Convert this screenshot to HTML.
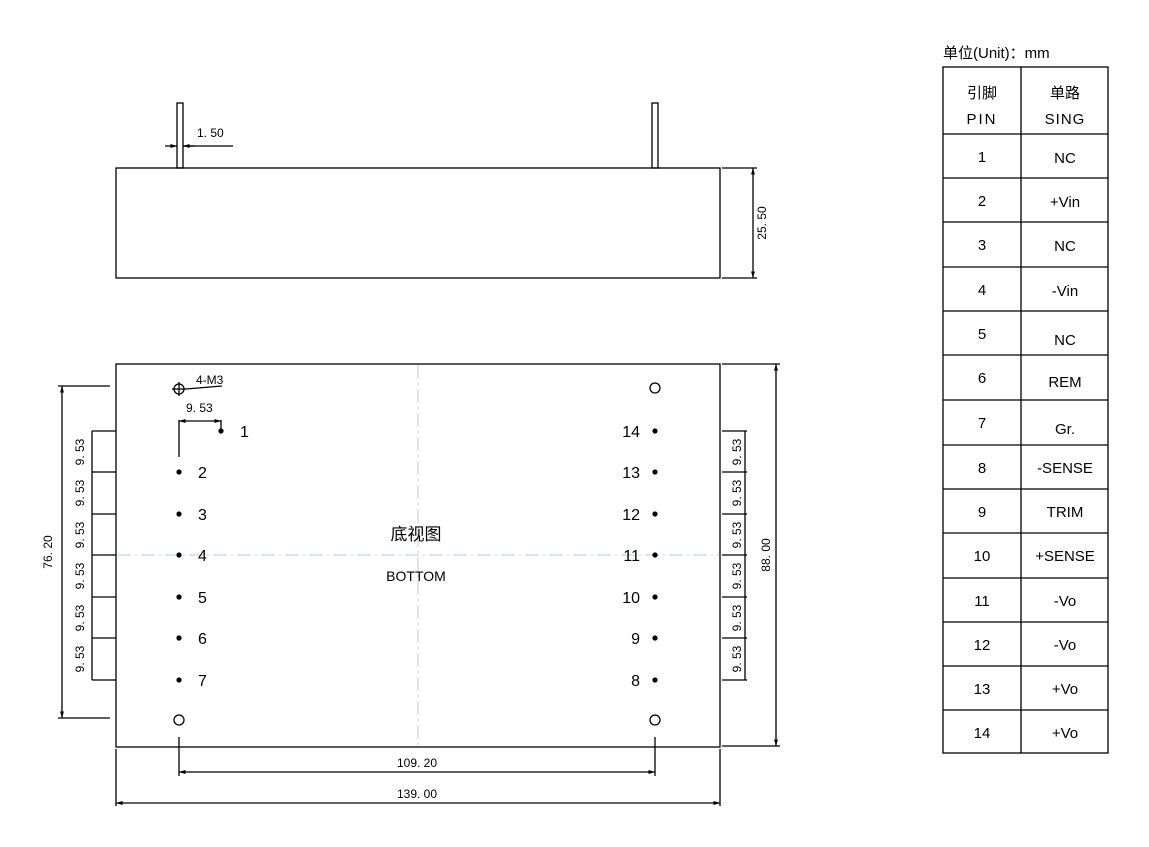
<!DOCTYPE html>
<html><head><meta charset="utf-8"><style>
html,body{margin:0;padding:0;background:#fff;}
svg{display:block;font-family:"Liberation Sans","Noto Sans CJK SC",sans-serif;}
.d{font-size:12px;fill:#000;}
.p{font-size:16px;fill:#000;}
.t{font-size:15px;fill:#000;text-anchor:middle;}
</style></head><body>
<svg width="1149" height="847" viewBox="0 0 1149 847" xmlns="http://www.w3.org/2000/svg">
<defs>
<marker id="a" viewBox="0 0 10 10" refX="10" refY="5" markerWidth="7" markerHeight="5" orient="auto-start-reverse"><path d="M0,2 L10,5 L0,8z" fill="#000"/></marker>
</defs>
<g stroke="#000" fill="none" stroke-width="1.3">
<rect x="177" y="103" width="6" height="65"/>
<rect x="652" y="103" width="6" height="65"/>
<rect x="116" y="168" width="604" height="110"/>
<line x1="165" y1="146" x2="177" y2="146" marker-end="url(#a)"/>
<line x1="195" y1="146" x2="183" y2="146" marker-end="url(#a)"/>
<line x1="183" y1="146" x2="233" y2="146"/>
<line x1="722" y1="168" x2="757" y2="168"/>
<line x1="722" y1="278" x2="757" y2="278"/>
<line x1="753" y1="168" x2="753" y2="278" marker-start="url(#a)" marker-end="url(#a)"/>
<rect x="116" y="364" width="604" height="383"/>
<line x1="58" y1="386" x2="110" y2="386"/>
<line x1="58" y1="718" x2="110" y2="718"/>
<line x1="62" y1="386" x2="62" y2="718" marker-start="url(#a)" marker-end="url(#a)"/>
<line x1="92" y1="431" x2="92" y2="680"/>
<line x1="92" y1="431" x2="116" y2="431"/><line x1="92" y1="472" x2="116" y2="472"/>
<line x1="92" y1="514" x2="116" y2="514"/><line x1="92" y1="555" x2="116" y2="555"/>
<line x1="92" y1="597" x2="116" y2="597"/><line x1="92" y1="638" x2="116" y2="638"/>
<line x1="92" y1="680" x2="116" y2="680"/>
<line x1="745" y1="431" x2="745" y2="680"/>
<line x1="722" y1="431" x2="747" y2="431"/><line x1="722" y1="472" x2="747" y2="472"/>
<line x1="722" y1="514" x2="747" y2="514"/><line x1="722" y1="555" x2="747" y2="555"/>
<line x1="722" y1="597" x2="747" y2="597"/><line x1="722" y1="638" x2="747" y2="638"/>
<line x1="722" y1="680" x2="747" y2="680"/>
<line x1="722" y1="364" x2="780" y2="364"/>
<line x1="722" y1="746" x2="780" y2="746"/>
<line x1="776" y1="364" x2="776" y2="746" marker-start="url(#a)" marker-end="url(#a)"/>
<line x1="179" y1="737" x2="179" y2="776"/>
<line x1="655" y1="737" x2="655" y2="776"/>
<line x1="179" y1="772" x2="655" y2="772" marker-start="url(#a)" marker-end="url(#a)"/>
<line x1="116" y1="749" x2="116" y2="806"/>
<line x1="720" y1="749" x2="720" y2="806"/>
<line x1="116" y1="803" x2="720" y2="803" marker-start="url(#a)" marker-end="url(#a)"/>
<line x1="179" y1="420" x2="179" y2="457"/>
<line x1="221" y1="420" x2="221" y2="431"/>
<line x1="179" y1="421" x2="221" y2="421" marker-start="url(#a)" marker-end="url(#a)"/>
<circle cx="179" cy="389" r="5"/>
<line x1="172" y1="389" x2="186" y2="389"/><line x1="179" y1="382" x2="179" y2="396"/>
<line x1="186" y1="389" x2="222" y2="386"/>
<circle cx="655" cy="388" r="5"/>
<circle cx="179" cy="720" r="5"/>
<circle cx="655" cy="720" r="5"/>
</g>
<g stroke="#b9cccc" stroke-width="1" stroke-dasharray="14,4,2,4">
<line x1="418" y1="365" x2="418" y2="746"/>
<line x1="117" y1="555" x2="719" y2="555"/>
</g>
<g fill="#000">
<circle cx="221" cy="431" r="2.6"/>
<circle cx="179" cy="472" r="2.6"/><circle cx="179" cy="514" r="2.6"/><circle cx="179" cy="555" r="2.6"/>
<circle cx="179" cy="597" r="2.6"/><circle cx="179" cy="638" r="2.6"/><circle cx="179" cy="680" r="2.6"/>
<circle cx="655" cy="431" r="2.6"/><circle cx="655" cy="472" r="2.6"/><circle cx="655" cy="514" r="2.6"/>
<circle cx="655" cy="555" r="2.6"/><circle cx="655" cy="597" r="2.6"/><circle cx="655" cy="638" r="2.6"/>
<circle cx="655" cy="680" r="2.6"/>
</g>
<text class="d" x="197" y="137">1. 50</text>
<text class="d" x="766" y="223" text-anchor="middle" transform="rotate(-90 766 223)">25. 50</text>
<text class="d" x="196" y="384" font-size="9">4-M3</text>
<text class="d" x="186" y="412">9. 53</text>
<text class="d" x="52" y="552" text-anchor="middle" font-size="13" transform="rotate(-90 52 552)">76. 20</text>
<text class="d" x="770" y="555" text-anchor="middle" font-size="13" transform="rotate(-90 770 555)">88. 00</text>
<text class="d" x="417" y="767" text-anchor="middle">109. 20</text>
<text class="d" x="417" y="798" text-anchor="middle">139. 00</text>
<g class="d" text-anchor="middle">
<text x="84" y="452" transform="rotate(-90 84 452)">9. 53</text>
<text x="84" y="493" transform="rotate(-90 84 493)">9. 53</text>
<text x="84" y="535" transform="rotate(-90 84 535)">9. 53</text>
<text x="84" y="576" transform="rotate(-90 84 576)">9. 53</text>
<text x="84" y="618" transform="rotate(-90 84 618)">9. 53</text>
<text x="84" y="659" transform="rotate(-90 84 659)">9. 53</text>
<text x="741" y="452" transform="rotate(-90 741 452)">9. 53</text>
<text x="741" y="493" transform="rotate(-90 741 493)">9. 53</text>
<text x="741" y="535" transform="rotate(-90 741 535)">9. 53</text>
<text x="741" y="576" transform="rotate(-90 741 576)">9. 53</text>
<text x="741" y="618" transform="rotate(-90 741 618)">9. 53</text>
<text x="741" y="659" transform="rotate(-90 741 659)">9. 53</text>
</g>
<g class="p">
<text x="240" y="437">1</text>
<text x="198" y="478">2</text><text x="198" y="520">3</text><text x="198" y="561">4</text>
<text x="198" y="603">5</text><text x="198" y="644">6</text><text x="198" y="686">7</text>
</g>
<g class="p" text-anchor="end">
<text x="640" y="437">14</text><text x="640" y="478">13</text><text x="640" y="520">12</text>
<text x="640" y="561">11</text><text x="640" y="603">10</text><text x="640" y="644">9</text><text x="640" y="686">8</text>
</g>
<text x="416" y="540" text-anchor="middle" font-size="17">底视图</text>
<text x="416" y="581" text-anchor="middle" font-size="14">BOTTOM</text>
<text x="943" y="58" font-size="15">单位(Unit)：mm</text>
<g stroke="#000" stroke-width="1.3" fill="none">
<rect x="943" y="67" width="165" height="686"/>
<line x1="1021" y1="67" x2="1021" y2="753"/>
<line x1="943" y1="134" x2="1108" y2="134"/>
<line x1="943" y1="178" x2="1108" y2="178"/>
<line x1="943" y1="222" x2="1108" y2="222"/>
<line x1="943" y1="267" x2="1108" y2="267"/>
<line x1="943" y1="311" x2="1108" y2="311"/>
<line x1="943" y1="355" x2="1108" y2="355"/>
<line x1="943" y1="400" x2="1108" y2="400"/>
<line x1="943" y1="445" x2="1108" y2="445"/>
<line x1="943" y1="489" x2="1108" y2="489"/>
<line x1="943" y1="533" x2="1108" y2="533"/>
<line x1="943" y1="578" x2="1108" y2="578"/>
<line x1="943" y1="622" x2="1108" y2="622"/>
<line x1="943" y1="666" x2="1108" y2="666"/>
<line x1="943" y1="710" x2="1108" y2="710"/>
</g>
<g class="t">
<text x="982" y="98">引脚</text><text x="982" y="124" letter-spacing="2">PIN</text>
<text x="1065" y="98">单路</text><text x="1065" y="124" letter-spacing="1">SING</text>
<text x="982" y="162">1</text><text x="1065" y="163">NC</text>
<text x="982" y="206">2</text><text x="1065" y="207">+Vin</text>
<text x="982" y="250">3</text><text x="1065" y="251">NC</text>
<text x="982" y="295">4</text><text x="1065" y="296">-Vin</text>
<text x="982" y="339">5</text><text x="1065" y="345">NC</text>
<text x="982" y="383">6</text><text x="1065" y="387">REM</text>
<text x="982" y="428">7</text><text x="1065" y="434">Gr.</text>
<text x="982" y="473">8</text><text x="1065" y="473">-SENSE</text>
<text x="982" y="517">9</text><text x="1065" y="517">TRIM</text>
<text x="982" y="561">10</text><text x="1065" y="561">+SENSE</text>
<text x="982" y="606">11</text><text x="1065" y="606">-Vo</text>
<text x="982" y="650">12</text><text x="1065" y="650">-Vo</text>
<text x="982" y="694">13</text><text x="1065" y="694">+Vo</text>
<text x="982" y="738">14</text><text x="1065" y="738">+Vo</text>
</g>
</svg>
</body></html>
